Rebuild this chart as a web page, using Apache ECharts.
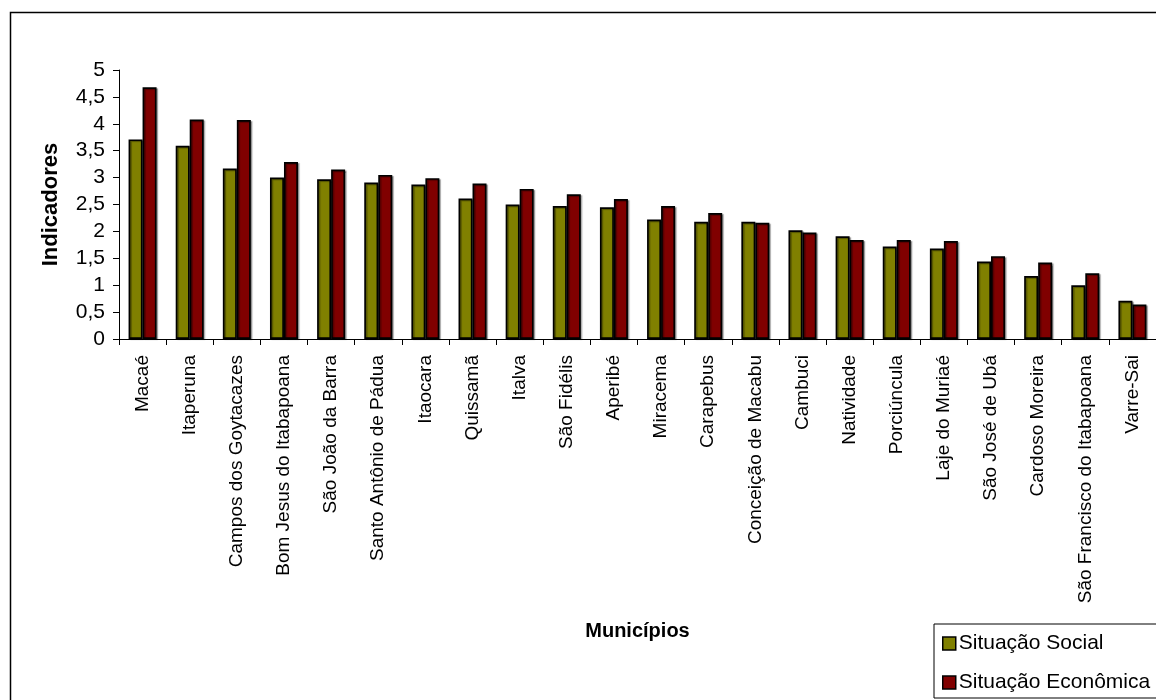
<!DOCTYPE html>
<html>
<head>
<meta charset="utf-8">
<script src="https://cdn.jsdelivr.net/npm/echarts@6/dist/echarts.min.js"></script>
<style>
html,body{margin:0;padding:0;background:#fff;}
#chart{width:1156px;height:700px;}
</style>
</head>
<body>
<div id="chart"></div>
<script>
const categories = ["Macaé","Itaperuna","Campos dos Goytacazes","Bom Jesus do Itabapoana","São João da Barra","Santo Antônio de Pádua","Itaocara","Quissamã","Italva","São Fidélis","Aperibé","Miracema","Carapebus","Conceição de Macabu","Cambuci","Natividade","Porciúncula","Laje do Muriaé","São José de Ubá","Cardoso Moreira","São Francisco do Itabapoana","Varre-Sai"];
const situacaoSocial = [3.71,3.59,3.17,3.00,2.97,2.91,2.87,2.61,2.50,2.47,2.45,2.22,2.18,2.18,2.02,1.91,1.72,1.68,1.44,1.17,1.00,0.71];
const situacaoEconomica = [4.68,4.08,4.07,3.29,3.15,3.05,2.99,2.89,2.79,2.69,2.60,2.47,2.34,2.16,1.98,1.84,1.84,1.82,1.54,1.42,1.22,0.64];
const yTicks = {min:0, max:5, interval:0.5};

const FONT = '"Liberation Sans", Arial, sans-serif';
const chart = echarts.init(document.getElementById('chart'));
const barStyle = (c) => ({
  color: c, borderColor: '#000', borderWidth: 1.7,
  shadowColor: 'rgba(0,0,0,0.35)', shadowOffsetX: 1.5, shadowOffsetY: 1, shadowBlur: 1
});
chart.setOption({
  animation: false,
  backgroundColor: '#fff',
  textStyle: {fontFamily: FONT, color: '#000'},
  grid: {left: 119, top: 70, bottom: 361, right: -5, containLabel: false},
  graphic: [{
    type: 'rect', left: 8, top: 10, silent: true,
    shape: {x: 0, y: 0, width: 1300, height: 900},
    style: {fill: 'none', stroke: '#000', lineWidth: 1.5}
  }],
  legend: {
    orient: 'vertical', left: 934, top: 624, width: 300, height: 200,
    padding: [9, 10, 5, 8], itemGap: 18,
    itemWidth: 13, itemHeight: 13, icon: 'rect',
    borderColor: '#000', borderWidth: 1, backgroundColor: '#fff',
    textStyle: {fontFamily: FONT, fontSize: 21, color: '#000', padding: [0,0,0,-2]},
    itemStyle: {borderColor: '#000', borderWidth: 1.5, shadowBlur: 0, shadowOffsetX: 0, shadowOffsetY: 0},
    data: ['Situação Social', 'Situação Econômica']
  },
  xAxis: {
    type: 'category', data: categories,
    name: 'Municípios', nameLocation: 'middle', nameGap: 282,
    nameTextStyle: {fontFamily: FONT, fontSize: 20, fontWeight: 'bold', color: '#000'},
    axisLine: {lineStyle: {color: '#000', width: 1}},
    axisTick: {show: true, length: 6, lineStyle: {color: '#000'}},
    axisLabel: {rotate: 90, margin: 16, fontFamily: FONT, fontSize: 19, color: '#000', interval: 0},
    splitLine: {show: false}
  },
  yAxis: {
    type: 'value', min: yTicks.min, max: yTicks.max, interval: yTicks.interval,
    name: 'Indicadores', nameLocation: 'middle', nameGap: 57, nameRotate: 90,
    nameTextStyle: {fontFamily: FONT, fontSize: 22, fontWeight: 'bold', color: '#000'},
    axisLine: {show: true, lineStyle: {color: '#000', width: 1}},
    axisTick: {show: true, length: 6, lineStyle: {color: '#000'}},
    axisLabel: {margin: 14, fontFamily: FONT, fontSize: 21, color: '#000',
      formatter: v => String(v).replace('.', ',')},
    splitLine: {show: false}
  },
  series: [
    {name: 'Situação Social', type: 'bar', data: situacaoSocial, barWidth: 14, barGap: '0%', itemStyle: barStyle('#808000')},
    {name: 'Situação Econômica', type: 'bar', data: situacaoEconomica, barWidth: 14, barGap: '0%', itemStyle: barStyle('#800000')}
  ]
});
</script>
</body>
</html>
